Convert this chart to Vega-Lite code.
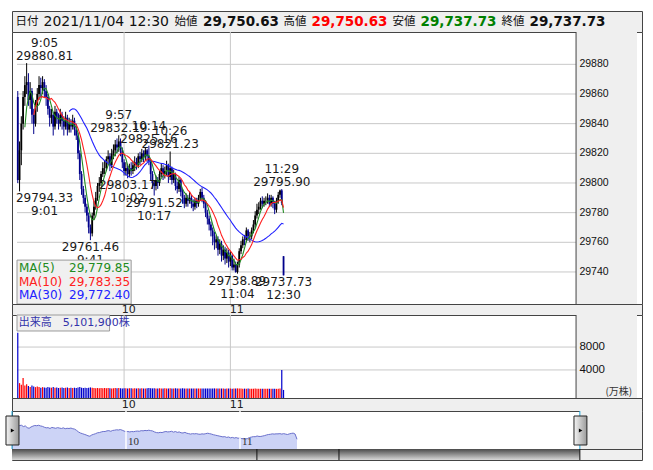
{
"$schema":"https://vega.github.io/schema/vega-lite/v6.json",
"padding":{"left":4,"top":10,"right":13,"bottom":11},
"background":"white",
"spacing":0,
"bounds":"flush",
"config":{"view":{"stroke":null},"font":"DejaVu Sans"},
"datasets":{
"k":[
{"i":0,"o":29858,"h":29862,"l":29800,"c":29802,"v":10500},
{"i":1,"o":29802,"h":29828,"l":29794.33,"c":29822,"v":1700},
{"i":2,"o":29822,"h":29845,"l":29812,"c":29840,"v":1400},
{"i":3,"o":29840,"h":29862,"l":29836,"c":29858,"v":2600},
{"i":4,"o":29858,"h":29872,"l":29852,"c":29866,"v":1300},
{"i":5,"o":29866,"h":29880.81,"l":29860,"c":29868,"v":1500},
{"i":6,"o":29868,"h":29874,"l":29852,"c":29856,"v":1200},
{"i":7,"o":29856,"h":29868,"l":29850,"c":29862,"v":1000},
{"i":8,"o":29862,"h":29864,"l":29840,"c":29846,"v":1300},
{"i":9,"o":29846,"h":29850,"l":29833,"c":29840,"v":1100},
{"i":10,"o":29840,"h":29856,"l":29838,"c":29852,"v":1000},
{"i":11,"o":29852,"h":29864,"l":29848,"c":29860,"v":1100},
{"i":12,"o":29860,"h":29872,"l":29856,"c":29866,"v":1000},
{"i":13,"o":29866,"h":29871,"l":29858,"c":29864,"v":900},
{"i":14,"o":29864,"h":29872,"l":29860,"c":29868,"v":1000},
{"i":15,"o":29868,"h":29870,"l":29858,"c":29862,"v":950},
{"i":16,"o":29862,"h":29866,"l":29852,"c":29858,"v":900},
{"i":17,"o":29858,"h":29860,"l":29846,"c":29850,"v":1000},
{"i":18,"o":29850,"h":29852,"l":29838,"c":29844,"v":950},
{"i":19,"o":29844,"h":29850,"l":29840,"c":29846,"v":900},
{"i":20,"o":29846,"h":29848,"l":29832,"c":29838,"v":1000},
{"i":21,"o":29838,"h":29852,"l":29836,"c":29848,"v":900},
{"i":22,"o":29848,"h":29850,"l":29840,"c":29844,"v":950},
{"i":23,"o":29844,"h":29847,"l":29836,"c":29840,"v":850},
{"i":24,"o":29840,"h":29850,"l":29838,"c":29846,"v":900},
{"i":25,"o":29846,"h":29848,"l":29836,"c":29842,"v":950},
{"i":26,"o":29842,"h":29845,"l":29832,"c":29838,"v":850},
{"i":27,"o":29838,"h":29848,"l":29836,"c":29844,"v":900},
{"i":28,"o":29844,"h":29846,"l":29832,"c":29836,"v":950},
{"i":29,"o":29836,"h":29844,"l":29834,"c":29840,"v":850},
{"i":30,"o":29840,"h":29843,"l":29834,"c":29838,"v":900},
{"i":31,"o":29838,"h":29846,"l":29836,"c":29842,"v":850},
{"i":32,"o":29842,"h":29844,"l":29832,"c":29836,"v":900},
{"i":33,"o":29836,"h":29840,"l":29829,"c":29832,"v":850},
{"i":34,"o":29832,"h":29834,"l":29816,"c":29820,"v":950},
{"i":35,"o":29820,"h":29822,"l":29802,"c":29806,"v":1000},
{"i":36,"o":29806,"h":29808,"l":29792,"c":29796,"v":900},
{"i":37,"o":29796,"h":29798,"l":29786,"c":29790,"v":850},
{"i":38,"o":29790,"h":29792,"l":29780,"c":29784,"v":900},
{"i":39,"o":29784,"h":29786,"l":29774,"c":29778,"v":850},
{"i":40,"o":29778,"h":29780,"l":29766,"c":29770,"v":900},
{"i":41,"o":29770,"h":29772,"l":29761.46,"c":29766,"v":950},
{"i":42,"o":29766,"h":29780,"l":29764,"c":29778,"v":900},
{"i":43,"o":29778,"h":29788,"l":29775,"c":29784,"v":850},
{"i":44,"o":29784,"h":29794,"l":29782,"c":29790,"v":800},
{"i":45,"o":29790,"h":29800,"l":29788,"c":29798,"v":850},
{"i":46,"o":29798,"h":29804,"l":29794,"c":29800,"v":800},
{"i":47,"o":29800,"h":29808,"l":29798,"c":29806,"v":850},
{"i":48,"o":29806,"h":29814,"l":29804,"c":29810,"v":800},
{"i":49,"o":29810,"h":29815,"l":29806,"c":29810,"v":850},
{"i":50,"o":29810,"h":29818,"l":29808,"c":29816,"v":800},
{"i":51,"o":29816,"h":29822,"l":29812,"c":29818,"v":850},
{"i":52,"o":29818,"h":29820,"l":29808,"c":29812,"v":800},
{"i":53,"o":29812,"h":29823,"l":29810,"c":29820,"v":780},
{"i":54,"o":29820,"h":29826,"l":29816,"c":29822,"v":800},
{"i":55,"o":29822,"h":29829,"l":29818,"c":29826,"v":850},
{"i":56,"o":29826,"h":29830,"l":29820,"c":29824,"v":800},
{"i":57,"o":29824,"h":29832.19,"l":29821,"c":29828,"v":850},
{"i":58,"o":29828,"h":29830,"l":29818,"c":29822,"v":800},
{"i":59,"o":29822,"h":29824,"l":29810,"c":29814,"v":780},
{"i":60,"o":29814,"h":29816,"l":29805,"c":29808,"v":800},
{"i":61,"o":29808,"h":29814,"l":29805,"c":29810,"v":820},
{"i":62,"o":29810,"h":29812,"l":29803.17,"c":29806,"v":780},
{"i":63,"o":29806,"h":29813,"l":29804,"c":29810,"v":800},
{"i":64,"o":29810,"h":29814,"l":29805,"c":29808,"v":820},
{"i":65,"o":29808,"h":29815,"l":29806,"c":29812,"v":780},
{"i":66,"o":29812,"h":29818,"l":29808,"c":29814,"v":800},
{"i":67,"o":29814,"h":29817,"l":29809,"c":29812,"v":760},
{"i":68,"o":29812,"h":29820,"l":29810,"c":29818,"v":800},
{"i":69,"o":29818,"h":29821,"l":29812,"c":29816,"v":780},
{"i":70,"o":29816,"h":29823,"l":29814,"c":29820,"v":800},
{"i":71,"o":29820,"h":29822,"l":29814,"c":29818,"v":760},
{"i":72,"o":29818,"h":29824,"l":29815,"c":29822,"v":780},
{"i":73,"o":29822,"h":29823,"l":29814,"c":29818,"v":800},
{"i":74,"o":29818,"h":29825.16,"l":29812,"c":29815,"v":850},
{"i":75,"o":29815,"h":29816,"l":29802,"c":29806,"v":820},
{"i":76,"o":29806,"h":29808,"l":29796,"c":29800,"v":780},
{"i":77,"o":29800,"h":29802,"l":29791.52,"c":29798,"v":800},
{"i":78,"o":29798,"h":29805,"l":29795,"c":29802,"v":760},
{"i":79,"o":29802,"h":29804,"l":29796,"c":29800,"v":780},
{"i":80,"o":29800,"h":29808,"l":29798,"c":29806,"v":800},
{"i":81,"o":29806,"h":29813,"l":29804,"c":29810,"v":760},
{"i":82,"o":29810,"h":29812,"l":29802,"c":29806,"v":780},
{"i":83,"o":29806,"h":29811,"l":29803,"c":29808,"v":800},
{"i":84,"o":29808,"h":29815,"l":29805,"c":29812,"v":760},
{"i":85,"o":29812,"h":29813,"l":29800,"c":29804,"v":780},
{"i":86,"o":29804,"h":29821.23,"l":29802,"c":29810,"v":820},
{"i":87,"o":29810,"h":29811,"l":29799,"c":29802,"v":780},
{"i":88,"o":29802,"h":29809,"l":29800,"c":29806,"v":760},
{"i":89,"o":29806,"h":29807,"l":29795,"c":29798,"v":800},
{"i":90,"o":29798,"h":29801,"l":29793,"c":29796,"v":780},
{"i":91,"o":29796,"h":29804,"l":29794,"c":29802,"v":760},
{"i":92,"o":29802,"h":29803,"l":29791,"c":29794,"v":780},
{"i":93,"o":29794,"h":29796,"l":29786,"c":29790,"v":800},
{"i":94,"o":29790,"h":29792,"l":29783,"c":29786,"v":760},
{"i":95,"o":29786,"h":29793,"l":29784,"c":29790,"v":780},
{"i":96,"o":29790,"h":29792,"l":29784,"c":29788,"v":760},
{"i":97,"o":29788,"h":29794,"l":29786,"c":29790,"v":780},
{"i":98,"o":29790,"h":29792,"l":29783,"c":29786,"v":760},
{"i":99,"o":29786,"h":29789,"l":29781,"c":29784,"v":780},
{"i":100,"o":29784,"h":29790,"l":29782,"c":29788,"v":760},
{"i":101,"o":29788,"h":29790,"l":29783,"c":29786,"v":740},
{"i":102,"o":29786,"h":29792,"l":29784,"c":29790,"v":760},
{"i":103,"o":29790,"h":29796,"l":29788,"c":29794,"v":780},
{"i":104,"o":29794,"h":29797,"l":29787,"c":29790,"v":760},
{"i":105,"o":29790,"h":29792,"l":29783,"c":29786,"v":740},
{"i":106,"o":29786,"h":29788,"l":29777,"c":29780,"v":760},
{"i":107,"o":29780,"h":29782,"l":29772,"c":29776,"v":780},
{"i":108,"o":29776,"h":29778,"l":29768,"c":29772,"v":760},
{"i":109,"o":29772,"h":29774,"l":29764,"c":29768,"v":740},
{"i":110,"o":29768,"h":29770,"l":29758,"c":29764,"v":760},
{"i":111,"o":29764,"h":29767,"l":29755,"c":29760,"v":780},
{"i":112,"o":29760,"h":29765,"l":29756,"c":29762,"v":740},
{"i":113,"o":29762,"h":29764,"l":29751,"c":29755,"v":760},
{"i":114,"o":29755,"h":29762,"l":29752,"c":29759,"v":740},
{"i":115,"o":29759,"h":29761,"l":29747,"c":29751,"v":760},
{"i":116,"o":29751,"h":29758,"l":29748,"c":29755,"v":740},
{"i":117,"o":29755,"h":29757,"l":29745,"c":29749,"v":720},
{"i":118,"o":29749,"h":29756,"l":29746,"c":29753,"v":740},
{"i":119,"o":29753,"h":29755,"l":29743,"c":29747,"v":760},
{"i":120,"o":29747,"h":29754,"l":29744,"c":29751,"v":740},
{"i":121,"o":29751,"h":29752,"l":29741,"c":29743,"v":720},
{"i":122,"o":29743,"h":29749,"l":29741,"c":29745,"v":740},
{"i":123,"o":29745,"h":29747,"l":29739.5,"c":29740,"v":760},
{"i":124,"o":29740,"h":29747,"l":29738.89,"c":29745,"v":780},
{"i":125,"o":29745,"h":29756,"l":29743,"c":29754,"v":760},
{"i":126,"o":29754,"h":29761,"l":29752,"c":29758,"v":740},
{"i":127,"o":29758,"h":29764,"l":29756,"c":29762,"v":720},
{"i":128,"o":29762,"h":29765,"l":29758,"c":29761.5,"v":740},
{"i":129,"o":29761.5,"h":29770,"l":29760,"c":29768,"v":720},
{"i":130,"o":29768,"h":29769,"l":29761,"c":29764,"v":740},
{"i":131,"o":29764,"h":29767,"l":29760,"c":29764,"v":720},
{"i":132,"o":29764,"h":29770,"l":29762,"c":29768,"v":700},
{"i":133,"o":29768,"h":29775,"l":29766,"c":29772,"v":720},
{"i":134,"o":29772,"h":29781,"l":29770,"c":29778,"v":740},
{"i":135,"o":29778,"h":29786,"l":29776,"c":29782,"v":720},
{"i":136,"o":29782,"h":29787,"l":29779,"c":29784,"v":700},
{"i":137,"o":29784,"h":29790,"l":29782,"c":29788,"v":720},
{"i":138,"o":29788,"h":29791,"l":29783,"c":29786,"v":700},
{"i":139,"o":29786,"h":29790,"l":29784,"c":29788,"v":720},
{"i":140,"o":29788,"h":29791,"l":29785,"c":29788,"v":700},
{"i":141,"o":29788,"h":29793,"l":29786,"c":29790,"v":720},
{"i":142,"o":29790,"h":29792,"l":29784,"c":29786,"v":700},
{"i":143,"o":29786,"h":29792,"l":29784,"c":29790,"v":720},
{"i":144,"o":29790,"h":29791,"l":29783,"c":29786,"v":700},
{"i":145,"o":29786,"h":29788,"l":29779,"c":29782,"v":720},
{"i":146,"o":29782,"h":29790,"l":29780,"c":29788,"v":700},
{"i":147,"o":29788,"h":29794,"l":29786,"c":29792,"v":720},
{"i":148,"o":29792,"h":29795.5,"l":29790,"c":29795,"v":740},
{"i":149,"o":29795,"h":29795.9,"l":29785,"c":29786.5,"v":4000},
{"i":150,"o":29750.63,"h":29750.63,"l":29737.73,"c":29737.73,"v":510}
],
"ann":[
{"t":"9:05","v":29880.81,"i":5,"k":"h"},
{"t":"9:01","v":29794.33,"i":1,"k":"l"},
{"t":"9:41","v":29761.46,"i":41,"k":"l"},
{"t":"9:57","v":29832.19,"i":57,"k":"h"},
{"t":"10:02","v":29803.17,"i":62,"k":"l"},
{"t":"10:14","v":29825.16,"i":74,"k":"h"},
{"t":"10:26","v":29821.23,"i":86,"k":"h"},
{"t":"10:17","v":29791.52,"i":77,"k":"l"},
{"t":"11:04","v":29738.89,"i":124,"k":"l"},
{"t":"11:29","v":29795.90,"i":149,"k":"h"},
{"t":"12:30","v":29737.73,"i":150,"k":"l"}
],
"pg":[{"g":29740},{"g":29760},{"g":29780},{"g":29800},{"g":29820},{"g":29840},{"g":29860},{"g":29880}],
"vg":[{"g":4000},{"g":8000}],
"tg":[{"g":60,"t":"10"},{"g":120,"t":"11"}],
"one":[{"z":1}]
},
"vconcat":[
{
"width":630,"height":21,
"view":{"fill":"#efefef","stroke":"#444"},
"layer":[
{"data":{"name":"one"},"mark":{"type":"text","text":"日付","align":"left","baseline":"middle","font":"Noto Sans CJK JP","fontSize":11.5,"color":"#111"},"encoding":{"x":{"datum":3.5,"type":"quantitative","scale":{"domain":[0,630],"nice":false,"zero":false},"axis":null}}},
{"data":{"name":"one"},"mark":{"type":"text","text":"2021/11/04 12:30","align":"left","baseline":"middle","fontSize":14,"color":"#111"},"encoding":{"x":{"datum":31.5,"type":"quantitative","scale":{"domain":[0,630],"nice":false,"zero":false},"axis":null}}},
{"data":{"name":"one"},"mark":{"type":"text","text":"始値","align":"left","baseline":"middle","font":"Noto Sans CJK JP","fontSize":11.5,"color":"#111"},"encoding":{"x":{"datum":162.5,"type":"quantitative","scale":{"domain":[0,630],"nice":false,"zero":false},"axis":null}}},
{"data":{"name":"one"},"mark":{"type":"text","text":"29,750.63","align":"left","baseline":"middle","fontSize":13.5,"fontWeight":"bold","color":"#111"},"encoding":{"x":{"datum":191,"type":"quantitative","scale":{"domain":[0,630],"nice":false,"zero":false},"axis":null}}},
{"data":{"name":"one"},"mark":{"type":"text","text":"高値","align":"left","baseline":"middle","font":"Noto Sans CJK JP","fontSize":11.5,"color":"#111"},"encoding":{"x":{"datum":271.5,"type":"quantitative","scale":{"domain":[0,630],"nice":false,"zero":false},"axis":null}}},
{"data":{"name":"one"},"mark":{"type":"text","text":"29,750.63","align":"left","baseline":"middle","fontSize":13.5,"fontWeight":"bold","color":"#ff0000"},"encoding":{"x":{"datum":299.5,"type":"quantitative","scale":{"domain":[0,630],"nice":false,"zero":false},"axis":null}}},
{"data":{"name":"one"},"mark":{"type":"text","text":"安値","align":"left","baseline":"middle","font":"Noto Sans CJK JP","fontSize":11.5,"color":"#111"},"encoding":{"x":{"datum":380.5,"type":"quantitative","scale":{"domain":[0,630],"nice":false,"zero":false},"axis":null}}},
{"data":{"name":"one"},"mark":{"type":"text","text":"29,737.73","align":"left","baseline":"middle","fontSize":13.5,"fontWeight":"bold","color":"#008000"},"encoding":{"x":{"datum":408.5,"type":"quantitative","scale":{"domain":[0,630],"nice":false,"zero":false},"axis":null}}},
{"data":{"name":"one"},"mark":{"type":"text","text":"終値","align":"left","baseline":"middle","font":"Noto Sans CJK JP","fontSize":11.5,"color":"#111"},"encoding":{"x":{"datum":489.5,"type":"quantitative","scale":{"domain":[0,630],"nice":false,"zero":false},"axis":null}}},
{"data":{"name":"one"},"mark":{"type":"text","text":"29,737.73","align":"left","baseline":"middle","fontSize":13.5,"fontWeight":"bold","color":"#111"},"encoding":{"x":{"datum":517.5,"type":"quantitative","scale":{"domain":[0,630],"nice":false,"zero":false},"axis":null}}}
]
},
{
"width":630,"height":272,
"view":{"fill":"white","stroke":"#444"},
"layer":[
{"data":{"name":"one"},"mark":{"type":"rect","color":"#efefef"},"encoding":{"x":{"datum":315.1,"type":"quantitative","scale":{"domain":[-0.44,349.5],"nice":false,"zero":false},"axis":null},"x2":{"datum":349.5},"y":{"datum":29718.4,"type":"quantitative","scale":{"domain":[29718.4,29901.8],"nice":false,"zero":false},"axis":null},"y2":{"datum":29901.8}}},
{"data":{"name":"pg"},"mark":{"type":"rule","color":"#c8c8c8"},"encoding":{"x":{"datum":-0.44,"type":"quantitative","scale":{"domain":[-0.44,349.5],"nice":false,"zero":false},"axis":null},"x2":{"datum":315.1},"y":{"field":"g","type":"quantitative","scale":{"domain":[29718.4,29901.8],"nice":false,"zero":false},"axis":null}}},
{"data":{"name":"tg"},"mark":{"type":"rule","color":"#c8c8c8"},"encoding":{"x":{"field":"g","type":"quantitative","scale":{"domain":[-0.44,349.5],"nice":false,"zero":false},"axis":null},"y":{"datum":29718.4,"type":"quantitative","scale":{"domain":[29718.4,29901.8],"nice":false,"zero":false},"axis":null},"y2":{"datum":29901.8}}},
{"data":{"name":"one"},"mark":{"type":"rule","color":"#444"},"encoding":{"x":{"datum":315.1,"type":"quantitative","scale":{"domain":[-0.44,349.5],"nice":false,"zero":false},"axis":null},"y":{"datum":29718.4,"type":"quantitative","scale":{"domain":[29718.4,29901.8],"nice":false,"zero":false},"axis":null},"y2":{"datum":29901.8}}},
{"data":{"name":"k"},"mark":{"type":"rule","strokeWidth":1},"encoding":{"x":{"field":"i","type":"quantitative","scale":{"domain":[-0.44,349.5],"nice":false,"zero":false},"axis":null},"y":{"field":"l","type":"quantitative","scale":{"domain":[29718.4,29901.8],"nice":false,"zero":false},"axis":null},"y2":{"field":"h"},"color":{"condition":{"test":"datum.c < datum.o","value":"#00008b"},"value":"#000000"}}},
{"data":{"name":"k"},"mark":{"type":"bar","width":1.8},"encoding":{"x":{"field":"i","type":"quantitative","scale":{"domain":[-0.44,349.5],"nice":false,"zero":false},"axis":null},"y":{"field":"o","type":"quantitative","scale":{"domain":[29718.4,29901.8],"nice":false,"zero":false},"axis":null},"y2":{"field":"c"},"color":{"condition":{"test":"datum.c < datum.o","value":"#00008b"},"value":"#000000"}}},
{"data":{"name":"k"},"transform":[{"window":[{"op":"mean","field":"c","as":"m"},{"op":"count","as":"n"}],"frame":[-29,0],"sort":[{"field":"i","order":"ascending"}]},{"filter":"datum.n >= 30"}],"mark":{"type":"line","color":"#2222ff","strokeWidth":1.1},"encoding":{"x":{"field":"i","type":"quantitative","scale":{"domain":[-0.44,349.5],"nice":false,"zero":false},"axis":null},"y":{"field":"m","type":"quantitative","scale":{"domain":[29718.4,29901.8],"nice":false,"zero":false},"axis":null}}},
{"data":{"name":"k"},"transform":[{"window":[{"op":"mean","field":"c","as":"m"},{"op":"count","as":"n"}],"frame":[-4,0],"sort":[{"field":"i","order":"ascending"}]},{"filter":"datum.n >= 5"}],"mark":{"type":"line","color":"#228b22","strokeWidth":1.1},"encoding":{"x":{"field":"i","type":"quantitative","scale":{"domain":[-0.44,349.5],"nice":false,"zero":false},"axis":null},"y":{"field":"m","type":"quantitative","scale":{"domain":[29718.4,29901.8],"nice":false,"zero":false},"axis":null}}},
{"data":{"name":"k"},"transform":[{"window":[{"op":"mean","field":"c","as":"m"},{"op":"count","as":"n"}],"frame":[-9,0],"sort":[{"field":"i","order":"ascending"}]},{"filter":"datum.n >= 10"}],"mark":{"type":"line","color":"#ff2020","strokeWidth":1.1},"encoding":{"x":{"field":"i","type":"quantitative","scale":{"domain":[-0.44,349.5],"nice":false,"zero":false},"axis":null},"y":{"field":"m","type":"quantitative","scale":{"domain":[29718.4,29901.8],"nice":false,"zero":false},"axis":null}}},
{"data":{"name":"ann"},"transform":[{"filter":"datum.k == 'h' && datum.i >= 10"}],"mark":{"type":"text","baseline":"alphabetic","dy":-3,"fontSize":12,"color":"#1a1a1a"},"encoding":{"x":{"field":"i","type":"quantitative","scale":{"domain":[-0.44,349.5],"nice":false,"zero":false},"axis":null},"y":{"field":"v","type":"quantitative","scale":{"domain":[29718.4,29901.8],"nice":false,"zero":false},"axis":null},"text":{"field":"v","type":"quantitative","format":".2f"}}},
{"data":{"name":"ann"},"transform":[{"filter":"datum.k == 'h' && datum.i >= 10"}],"mark":{"type":"text","baseline":"alphabetic","dy":-16,"fontSize":12,"color":"#1a1a1a"},"encoding":{"x":{"field":"i","type":"quantitative","scale":{"domain":[-0.44,349.5],"nice":false,"zero":false},"axis":null},"y":{"field":"v","type":"quantitative","scale":{"domain":[29718.4,29901.8],"nice":false,"zero":false},"axis":null},"text":{"field":"t"}}},
{"data":{"name":"ann"},"transform":[{"filter":"datum.k == 'l' && datum.i >= 10"}],"mark":{"type":"text","baseline":"top","dy":2,"fontSize":12,"color":"#1a1a1a"},"encoding":{"x":{"field":"i","type":"quantitative","scale":{"domain":[-0.44,349.5],"nice":false,"zero":false},"axis":null},"y":{"field":"v","type":"quantitative","scale":{"domain":[29718.4,29901.8],"nice":false,"zero":false},"axis":null},"text":{"field":"v","type":"quantitative","format":".2f"}}},
{"data":{"name":"ann"},"transform":[{"filter":"datum.k == 'l' && datum.i >= 10"}],"mark":{"type":"text","baseline":"top","dy":15,"fontSize":12,"color":"#1a1a1a"},"encoding":{"x":{"field":"i","type":"quantitative","scale":{"domain":[-0.44,349.5],"nice":false,"zero":false},"axis":null},"y":{"field":"v","type":"quantitative","scale":{"domain":[29718.4,29901.8],"nice":false,"zero":false},"axis":null},"text":{"field":"t"}}},
{"data":{"name":"ann"},"transform":[{"filter":"datum.k == 'h' && datum.i < 10"}],"mark":{"type":"text","baseline":"alphabetic","dy":-3,"fontSize":12,"color":"#1a1a1a"},"encoding":{"x":{"datum":15.1,"type":"quantitative","scale":{"domain":[-0.44,349.5],"nice":false,"zero":false},"axis":null},"y":{"field":"v","type":"quantitative","scale":{"domain":[29718.4,29901.8],"nice":false,"zero":false},"axis":null},"text":{"field":"v","type":"quantitative","format":".2f"}}},
{"data":{"name":"ann"},"transform":[{"filter":"datum.k == 'h' && datum.i < 10"}],"mark":{"type":"text","baseline":"alphabetic","dy":-16,"fontSize":12,"color":"#1a1a1a"},"encoding":{"x":{"datum":15.1,"type":"quantitative","scale":{"domain":[-0.44,349.5],"nice":false,"zero":false},"axis":null},"y":{"field":"v","type":"quantitative","scale":{"domain":[29718.4,29901.8],"nice":false,"zero":false},"axis":null},"text":{"field":"t"}}},
{"data":{"name":"ann"},"transform":[{"filter":"datum.k == 'l' && datum.i < 10"}],"mark":{"type":"text","baseline":"top","dy":2,"fontSize":12,"color":"#1a1a1a"},"encoding":{"x":{"datum":15.1,"type":"quantitative","scale":{"domain":[-0.44,349.5],"nice":false,"zero":false},"axis":null},"y":{"field":"v","type":"quantitative","scale":{"domain":[29718.4,29901.8],"nice":false,"zero":false},"axis":null},"text":{"field":"v","type":"quantitative","format":".2f"}}},
{"data":{"name":"ann"},"transform":[{"filter":"datum.k == 'l' && datum.i < 10"}],"mark":{"type":"text","baseline":"top","dy":15,"fontSize":12,"color":"#1a1a1a"},"encoding":{"x":{"datum":15.1,"type":"quantitative","scale":{"domain":[-0.44,349.5],"nice":false,"zero":false},"axis":null},"y":{"field":"v","type":"quantitative","scale":{"domain":[29718.4,29901.8],"nice":false,"zero":false},"axis":null},"text":{"field":"t"}}},
{"data":{"name":"one"},"mark":{"type":"rect","fill":"#f0f0f0","stroke":"#9a9a9a","strokeWidth":1},"encoding":{"x":{"datum":-0.44,"type":"quantitative","scale":{"domain":[-0.44,349.5],"nice":false,"zero":false},"axis":null},"x2":{"datum":64},"y":{"datum":29718.4,"type":"quantitative","scale":{"domain":[29718.4,29901.8],"nice":false,"zero":false},"axis":null},"y2":{"datum":29748}}},
{"data":{"name":"one"},"mark":{"type":"text","text":"MA(5)","align":"left","baseline":"middle","fontSize":12,"color":"#228b22"},"encoding":{"x":{"datum":0.7,"type":"quantitative","scale":{"domain":[-0.44,349.5],"nice":false,"zero":false},"axis":null},"y":{"datum":29742.9,"type":"quantitative","scale":{"domain":[29718.4,29901.8],"nice":false,"zero":false},"axis":null}}},
{"data":{"name":"one"},"mark":{"type":"text","text":"MA(10)","align":"left","baseline":"middle","fontSize":12,"color":"#ff2020"},"encoding":{"x":{"datum":0.7,"type":"quantitative","scale":{"domain":[-0.44,349.5],"nice":false,"zero":false},"axis":null},"y":{"datum":29733.4,"type":"quantitative","scale":{"domain":[29718.4,29901.8],"nice":false,"zero":false},"axis":null}}},
{"data":{"name":"one"},"mark":{"type":"text","text":"MA(30)","align":"left","baseline":"middle","fontSize":12,"color":"#2222ff"},"encoding":{"x":{"datum":0.7,"type":"quantitative","scale":{"domain":[-0.44,349.5],"nice":false,"zero":false},"axis":null},"y":{"datum":29724.2,"type":"quantitative","scale":{"domain":[29718.4,29901.8],"nice":false,"zero":false},"axis":null}}},
{"data":{"name":"one"},"mark":{"type":"text","text":"29,779.85","align":"right","baseline":"middle","fontSize":12,"color":"#228b22"},"encoding":{"x":{"datum":63.4,"type":"quantitative","scale":{"domain":[-0.44,349.5],"nice":false,"zero":false},"axis":null},"y":{"datum":29742.9,"type":"quantitative","scale":{"domain":[29718.4,29901.8],"nice":false,"zero":false},"axis":null}}},
{"data":{"name":"one"},"mark":{"type":"text","text":"29,783.35","align":"right","baseline":"middle","fontSize":12,"color":"#ff2020"},"encoding":{"x":{"datum":63.4,"type":"quantitative","scale":{"domain":[-0.44,349.5],"nice":false,"zero":false},"axis":null},"y":{"datum":29733.4,"type":"quantitative","scale":{"domain":[29718.4,29901.8],"nice":false,"zero":false},"axis":null}}},
{"data":{"name":"one"},"mark":{"type":"text","text":"29,772.40","align":"right","baseline":"middle","fontSize":12,"color":"#2222ff"},"encoding":{"x":{"datum":63.4,"type":"quantitative","scale":{"domain":[-0.44,349.5],"nice":false,"zero":false},"axis":null},"y":{"datum":29724.2,"type":"quantitative","scale":{"domain":[29718.4,29901.8],"nice":false,"zero":false},"axis":null}}},
{"data":{"name":"pg"},"mark":{"type":"text","align":"left","baseline":"middle","font":"Liberation Sans","fontSize":10.5,"color":"#111"},"encoding":{"x":{"datum":317,"type":"quantitative","scale":{"domain":[-0.44,349.5],"nice":false,"zero":false},"axis":null},"y":{"field":"g","type":"quantitative","scale":{"domain":[29718.4,29901.8],"nice":false,"zero":false},"axis":null},"text":{"field":"g","type":"quantitative","format":"d"}}}
]
},
{
"width":630,"height":11,
"view":{"fill":"#efefef","stroke":"#444"},
"data":{"name":"tg"},
"mark":{"type":"text","align":"left","baseline":"middle","dx":1,"fontSize":11,"color":"#222"},
"encoding":{"x":{"field":"g","type":"quantitative","scale":{"domain":[-0.44,349.5],"nice":false,"zero":false},"axis":null},"text":{"field":"t"}}
},
{
"width":630,"height":83,
"view":{"fill":"white","stroke":"#444"},
"layer":[
{"data":{"name":"one"},"mark":{"type":"rect","color":"#efefef"},"encoding":{"x":{"datum":315.1,"type":"quantitative","scale":{"domain":[-0.44,349.5],"nice":false,"zero":false},"axis":null},"x2":{"datum":349.5},"y":{"datum":-900,"type":"quantitative","scale":{"domain":[-900,13600],"nice":false,"zero":false},"axis":null},"y2":{"datum":13600}}},
{"data":{"name":"vg"},"mark":{"type":"rule","color":"#c8c8c8"},"encoding":{"x":{"datum":-0.44,"type":"quantitative","scale":{"domain":[-0.44,349.5],"nice":false,"zero":false},"axis":null},"x2":{"datum":315.1},"y":{"field":"g","type":"quantitative","scale":{"domain":[-900,13600],"nice":false,"zero":false},"axis":null}}},
{"data":{"name":"tg"},"mark":{"type":"rule","color":"#c8c8c8"},"encoding":{"x":{"field":"g","type":"quantitative","scale":{"domain":[-0.44,349.5],"nice":false,"zero":false},"axis":null},"y":{"datum":-900,"type":"quantitative","scale":{"domain":[-900,13600],"nice":false,"zero":false},"axis":null},"y2":{"datum":13600}}},
{"data":{"name":"one"},"mark":{"type":"rule","color":"#444"},"encoding":{"x":{"datum":315.1,"type":"quantitative","scale":{"domain":[-0.44,349.5],"nice":false,"zero":false},"axis":null},"y":{"datum":-900,"type":"quantitative","scale":{"domain":[-900,13600],"nice":false,"zero":false},"axis":null},"y2":{"datum":13600}}},
{"data":{"name":"k"},"mark":{"type":"bar","width":1.2},"encoding":{"x":{"field":"i","type":"quantitative","scale":{"domain":[-0.44,349.5],"nice":false,"zero":false},"axis":null},"y":{"field":"v","type":"quantitative","scale":{"domain":[-900,13600],"nice":false,"zero":false},"axis":null},"y2":{"datum":-900},"color":{"condition":{"test":"datum.c < datum.o","value":"#0000cc"},"value":"#ff0000"}}},
{"data":{"name":"one"},"mark":{"type":"rect","fill":"#f0f0f0","stroke":"#9a9a9a","strokeWidth":1},"encoding":{"x":{"datum":-0.44,"type":"quantitative","scale":{"domain":[-0.44,349.5],"nice":false,"zero":false},"axis":null},"x2":{"datum":51.8},"y":{"datum":10805,"type":"quantitative","scale":{"domain":[-900,13600],"nice":false,"zero":false},"axis":null},"y2":{"datum":13600}}},
{"data":{"name":"one"},"mark":{"type":"text","text":"出来高　5,101,900株","align":"left","baseline":"middle","font":"DejaVu Sans, Noto Sans CJK JP","fontSize":11,"color":"#3333aa"},"encoding":{"x":{"datum":0.5,"type":"quantitative","scale":{"domain":[-0.44,349.5],"nice":false,"zero":false},"axis":null},"y":{"datum":12200,"type":"quantitative","scale":{"domain":[-900,13600],"nice":false,"zero":false},"axis":null}}},
{"data":{"name":"vg"},"mark":{"type":"text","align":"left","baseline":"middle","font":"Liberation Sans","fontSize":11.5,"color":"#111"},"encoding":{"x":{"datum":317,"type":"quantitative","scale":{"domain":[-0.44,349.5],"nice":false,"zero":false},"axis":null},"y":{"field":"g","type":"quantitative","scale":{"domain":[-900,13600],"nice":false,"zero":false},"axis":null},"text":{"field":"g","type":"quantitative","format":"d"}}},
{"data":{"name":"one"},"mark":{"type":"text","text":"(万株)","align":"right","baseline":"middle","font":"Noto Sans CJK JP","fontSize":10,"color":"#333"},"encoding":{"x":{"datum":346.8,"type":"quantitative","scale":{"domain":[-0.44,349.5],"nice":false,"zero":false},"axis":null},"y":{"datum":150,"type":"quantitative","scale":{"domain":[-900,13600],"nice":false,"zero":false},"axis":null}}}
]
},
{
"width":630,"height":13,
"view":{"fill":"#efefef","stroke":"#444"},
"data":{"name":"tg"},
"mark":{"type":"text","align":"left","baseline":"middle","dx":1,"fontSize":11,"color":"#222"},
"encoding":{"x":{"field":"g","type":"quantitative","scale":{"domain":[-0.44,349.5],"nice":false,"zero":false},"axis":null},"text":{"field":"t"}}
},
{
"width":630,"height":38,
"view":{"fill":"white","stroke":"#444"},
"layer":[
{"data":{"name":"one"},"mark":{"type":"rect","color":"#efefef"},"encoding":{"x":{"datum":298.9,"type":"quantitative","scale":{"domain":[0,331.6],"nice":false,"zero":false},"axis":null},"x2":{"datum":331.6},"y":{"datum":29647,"type":"quantitative","scale":{"domain":[29647,30001],"nice":false,"zero":false},"axis":null},"y2":{"datum":30001}}},
{"data":{"name":"k"},"mark":{"type":"area","color":"#b6c1f2","line":{"color":"#6a70cc","strokeWidth":1}},"encoding":{"x":{"field":"i","type":"quantitative","scale":{"domain":[0,331.6],"nice":false,"zero":false},"axis":null},"y":{"field":"c","type":"quantitative","scale":{"domain":[29647,30001],"nice":false,"zero":false},"axis":null},"y2":{"datum":29647}}},
{"data":{"name":"tg"},"mark":{"type":"rule","color":"white","strokeWidth":1.5},"encoding":{"x":{"field":"g","type":"quantitative","scale":{"domain":[0,331.6],"nice":false,"zero":false},"axis":null},"y":{"datum":29647,"type":"quantitative","scale":{"domain":[29647,30001],"nice":false,"zero":false},"axis":null},"y2":{"datum":30001}}},
{"data":{"name":"tg"},"mark":{"type":"text","align":"left","baseline":"middle","dx":2,"font":"Liberation Serif","fontSize":11,"color":"#333"},"encoding":{"x":{"field":"g","type":"quantitative","scale":{"domain":[0,331.6],"nice":false,"zero":false},"axis":null},"y":{"datum":29712,"type":"quantitative","scale":{"domain":[29647,30001],"nice":false,"zero":false},"axis":null},"text":{"field":"t"}}},
{"data":{"values":[{"g":0},{"g":298.9}]},"mark":{"type":"rule","color":"#22aadd","strokeWidth":1},"encoding":{"x":{"field":"g","type":"quantitative","scale":{"domain":[0,331.6],"nice":false,"zero":false},"axis":null},"y":{"datum":29647,"type":"quantitative","scale":{"domain":[29647,30001],"nice":false,"zero":false},"axis":null},"y2":{"datum":30001}}},
{"data":{"values":[{"a":-3.16,"b":3.68},{"a":295.8,"b":302.6}]},"mark":{"type":"rect","stroke":"#222","strokeWidth":1,"color":{"gradient":"linear","x1":0,"y1":0,"x2":1,"y2":0,"stops":[{"offset":0,"color":"#f4f4f4"},{"offset":1,"color":"#9a9a9a"}]}},"encoding":{"x":{"field":"a","type":"quantitative","scale":{"domain":[0,331.6],"nice":false,"zero":false},"axis":null},"x2":{"field":"b"},"y":{"datum":29684.3,"type":"quantitative","scale":{"domain":[29647,30001],"nice":false,"zero":false},"axis":null},"y2":{"datum":29954.4}}},
{"data":{"values":[{"g":0.3},{"g":299.3}]},"mark":{"type":"point","shape":"triangle-right","filled":true,"color":"#000","size":16,"opacity":1},"encoding":{"x":{"field":"g","type":"quantitative","scale":{"domain":[0,331.6],"nice":false,"zero":false},"axis":null},"y":{"datum":29819.3,"type":"quantitative","scale":{"domain":[29647,30001],"nice":false,"zero":false},"axis":null}}}
]
},
{
"width":630,"height":11,
"view":{"fill":"#efefef","stroke":"#444"},
"layer":[
{"data":{"name":"one"},"mark":{"type":"rect","color":{"gradient":"linear","x1":0,"y1":0,"x2":0,"y2":1,"stops":[{"offset":0,"color":"#4a4a4a"},{"offset":1,"color":"#d8d8d8"}]}},"encoding":{"x":{"datum":0,"type":"quantitative","scale":{"domain":[0,331.6],"nice":false,"zero":false},"axis":null},"x2":{"datum":298.9},"y":{"datum":0,"type":"quantitative","scale":{"domain":[0,1],"nice":false,"zero":false},"axis":null},"y2":{"datum":1}}},
{"data":{"values":[{"g":128.9},{"g":172.1},{"g":298.9}]},"mark":{"type":"rule","color":"#111"},"encoding":{"x":{"field":"g","type":"quantitative","scale":{"domain":[0,331.6],"nice":false,"zero":false},"axis":null},"y":{"datum":0,"type":"quantitative","scale":{"domain":[0,1],"nice":false,"zero":false},"axis":null},"y2":{"datum":1}}}
]
}
]
}
